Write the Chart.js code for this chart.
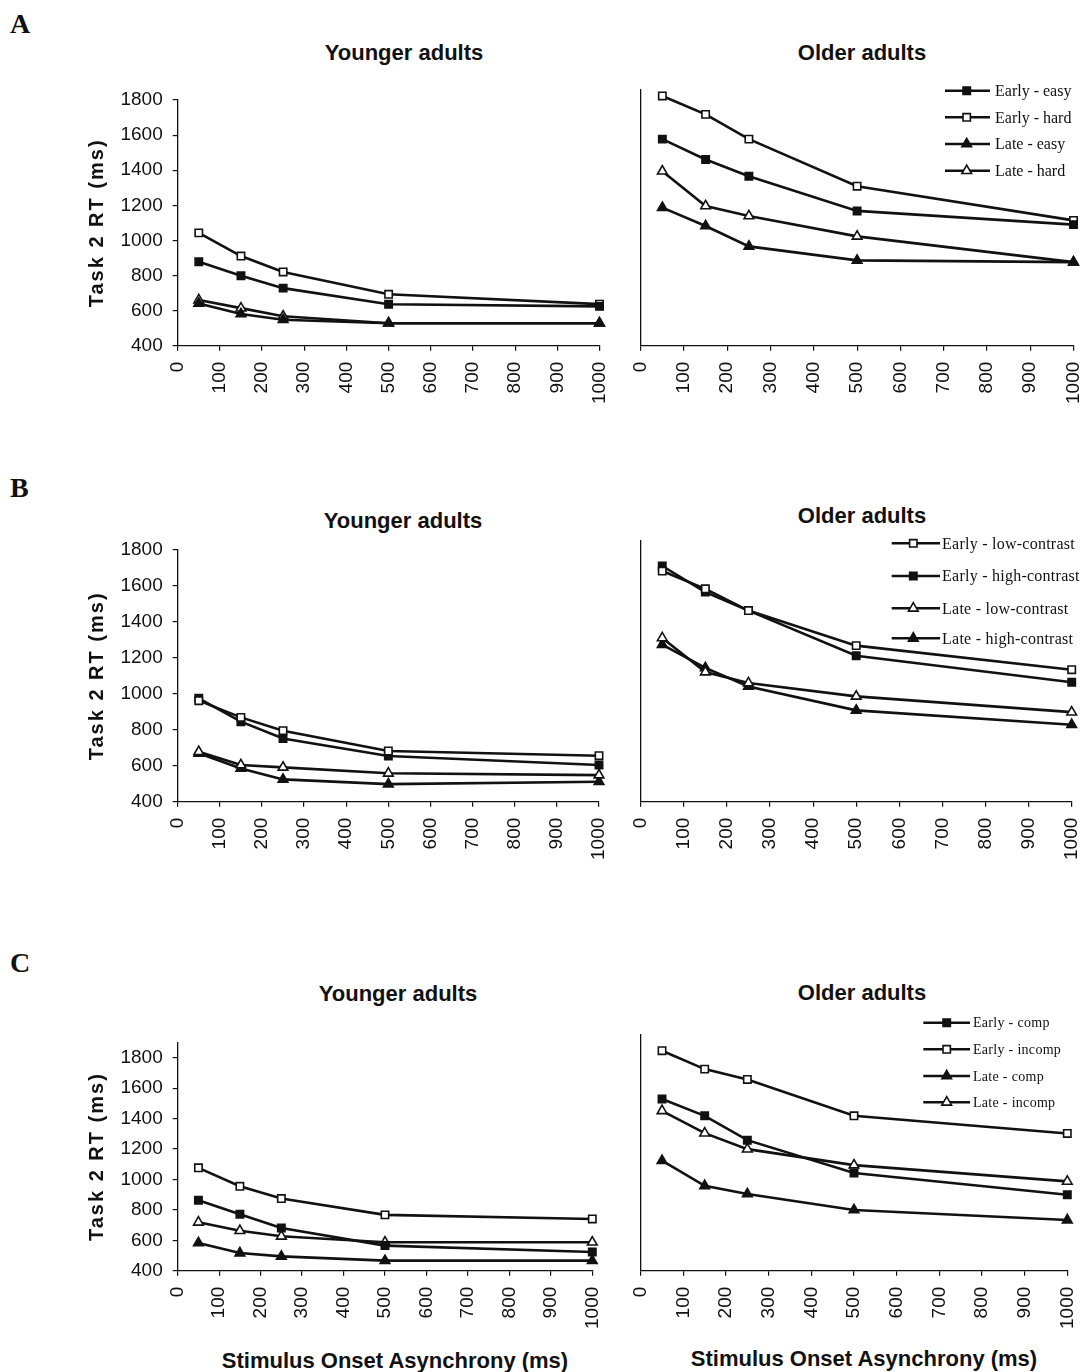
<!DOCTYPE html>
<html>
<head>
<meta charset="utf-8">
<script src="https://cdn.jsdelivr.net/npm/chart.js@4.4.1/dist/chart.umd.min.js"></script>
<style>
html,body{margin:0;padding:0;background:#fff;}
body{width:1086px;height:1372px;position:relative;overflow:hidden;}
.t{position:absolute;white-space:nowrap;color:#111;}
.letter{font-family:'Liberation Serif','Times New Roman',serif;font-weight:bold;font-size:28px;line-height:28px;left:10px;}
.ttl{font-family:'Liberation Sans',Arial,sans-serif;font-weight:bold;font-size:22px;line-height:22px;transform:translateX(-50%);}
.panel{position:absolute;}
</style>
</head>
<body>
<div class="t letter" style="top:10px">A</div>
<div class="t letter" style="top:474px">B</div>
<div class="t letter" style="top:949px">C</div>

<div class="t ttl" style="left:404px;top:42px">Younger adults</div>
<div class="t ttl" style="left:862px;top:42px">Older adults</div>
<div class="t ttl" style="left:403px;top:510px">Younger adults</div>
<div class="t ttl" style="left:862px;top:505px">Older adults</div>
<div class="t ttl" style="left:398px;top:983px">Younger adults</div>
<div class="t ttl" style="left:862px;top:982px">Older adults</div>

<div class="t ttl" style="left:395px;top:1350px">Stimulus Onset Asynchrony (ms)</div>
<div class="t ttl" style="left:864px;top:1348px">Stimulus Onset Asynchrony (ms)</div>

<script>
// ---------------- data ----------------
const SOA = [50, 150, 250, 500, 1000];
const X_TICKS = [0, 100, 200, 300, 400, 500, 600, 700, 800, 900, 1000];
const Y_TICKS = [400, 600, 800, 1000, 1200, 1400, 1600, 1800];
const Y_TITLE = 'Task 2 RT (ms)';

// Panel A
const A_LABELS = ['Early - easy', 'Early - hard', 'Late - easy', 'Late - hard'];
const A_YOUNG_EARLY_EASY = [878, 798, 728, 636, 624];
const A_YOUNG_EARLY_HARD = [1043, 911, 820, 693, 637];
const A_YOUNG_LATE_EASY  = [641, 581, 548, 528, 528];
const A_YOUNG_LATE_HARD  = [660, 614, 568, 528, 528];
const A_OLD_EARLY_EASY = [1577, 1461, 1366, 1168, 1090];
const A_OLD_EARLY_HARD = [1823, 1718, 1577, 1309, 1114];
const A_OLD_LATE_EASY  = [1187, 1082, 966, 886, 876];
const A_OLD_LATE_HARD  = [1394, 1196, 1139, 1023, 876];

// Panel B
const B_LABELS = ['Early - low-contrast', 'Early - high-contrast', 'Late - low-contrast', 'Late - high-contrast'];
const B_YOUNG_EARLY_LOW  = [962, 869, 795, 682, 656];
const B_YOUNG_EARLY_HIGH = [975, 845, 752, 654, 604];
const B_YOUNG_LATE_LOW   = [678, 604, 591, 558, 548];
const B_YOUNG_LATE_HIGH  = [669, 585, 524, 498, 511];
const B_OLD_EARLY_LOW  = [1683, 1584, 1463, 1268, 1134];
const B_OLD_EARLY_HIGH = [1711, 1566, 1463, 1212, 1064];
const B_OLD_LATE_LOW   = [1311, 1121, 1060, 986, 898];
const B_OLD_LATE_HIGH  = [1274, 1144, 1041, 908, 828];

// Panel C
const C_LABELS = ['Early - comp', 'Early - incomp', 'Late - comp', 'Late - incomp'];
const C_YOUNG_EARLY_COMP   = [863, 771, 681, 565, 523];
const C_YOUNG_EARLY_INCOMP = [1076, 955, 874, 767, 740];
const C_YOUNG_LATE_COMP    = [582, 516, 494, 466, 466];
const C_YOUNG_LATE_INCOMP  = [718, 663, 626, 587, 587];
const C_OLD_EARLY_COMP   = [1528, 1418, 1258, 1042, 899];
const C_OLD_EARLY_INCOMP = [1846, 1725, 1657, 1418, 1302];
const C_OLD_LATE_COMP    = [1123, 958, 904, 799, 733];
const C_OLD_LATE_INCOMP  = [1451, 1304, 1199, 1094, 987];

// ---------------- styles ----------------
const INK = '#111';
const FONT_SANS = "'Liberation Sans', Arial, sans-serif";
const FONT_SERIF = "'Liberation Serif', 'Times New Roman', serif";
const FILLED_SQ = {shape: 'rect', filled: true};
const OPEN_SQ = {shape: 'rect', filled: false};
const FILLED_TRI = {shape: 'triangle', filled: true};
const OPEN_TRI = {shape: 'triangle', filled: false};

const insideLegend = {
  id: 'insideLegend',
  afterDatasetsDraw(chart, args, o) {
    if (!o || !o.rows) return;
    const ctx = chart.ctx;
    const r = chart.canvas.getBoundingClientRect();
    ctx.save();
    chart.data.datasets.forEach((ds, i) => {
      const y = o.rows[i] - r.top;
      ctx.lineWidth = 2.4;
      ctx.strokeStyle = INK;
      ctx.beginPath();
      ctx.moveTo(o.lineFrom - r.left, y);
      ctx.lineTo(o.lineTo - r.left, y);
      ctx.stroke();
      ctx.fillStyle = ds.pointBackgroundColor;
      ctx.strokeStyle = INK;
      ctx.lineWidth = ds.pointBorderWidth;
      Chart.helpers.drawPoint(ctx, {pointStyle: ds.pointStyle, radius: ds.pointRadius, borderWidth: ds.pointBorderWidth, rotation: 0}, o.markX - r.left, y);
      ctx.fillStyle = INK;
      ctx.font = o.fontSize + 'px ' + FONT_SERIF;
      ctx.letterSpacing = o.spacing + 'px';
      ctx.textAlign = 'left';
      ctx.textBaseline = 'middle';
      ctx.fillText(ds.label, o.textX - r.left, y + 1);
    });
    ctx.restore();
  }
};

const titleSpacing = {
  id: 'titleSpacing',
  beforeDraw(chart) {
    const s = chart.scales.y;
    if (s && !s.__spaced) {
      const orig = s.drawTitle;
      s.drawTitle = function () {
        const c = this.ctx;
        c.save();
        c.letterSpacing = '2px';
        orig.apply(this, arguments);
        c.restore();
      };
      s.__spaced = true;
    }
  }
};
Chart.register(insideLegend, titleSpacing);

function makePanel(p) {
  const [bx, by, bw, bh] = p.box;
  const div = document.createElement('div');
  div.className = 'panel';
  div.style.left = bx + 'px';
  div.style.top = by + 'px';
  div.style.width = bw + 'px';
  div.style.height = bh + 'px';
  const cv = document.createElement('canvas');
  div.appendChild(cv);
  document.body.appendChild(div);

  const yMin = Y_TICKS[0];
  const pxPerUnit = (p.row.y400 - p.row.y1800) / (Y_TICKS[Y_TICKS.length - 1] - yMin);
  const areaTop = p.row.y400 - (p.yMax - yMin) * pxPerUnit;

  const datasets = p.series.map((vals, i) => ({
    label: p.labels[i],
    data: SOA.map((x, j) => ({x: x, y: vals[j]})),
    borderColor: INK,
    borderWidth: 2.6,
    tension: 0,
    fill: false,
    clip: false,
    pointStyle: p.styles[i].shape,
    pointRadius: p.styles[i].shape === 'triangle' ? 5.6 : 5.2,
    pointBackgroundColor: p.styles[i].filled ? INK : '#fff',
    pointBorderColor: INK,
    pointBorderWidth: 1.6
  }));

  const yScale = p.left ? {
    type: 'linear', min: yMin, max: p.yMax,
    afterBuildTicks: s => { s.ticks = Y_TICKS.map(v => ({value: v})); },
    afterFit: s => { s.width = p.areaLeft - bx; s.paddingTop = 0; s.paddingBottom = 0; },
    ticks: {padding: 10, color: INK, font: {family: FONT_SANS, size: 19}, callback: v => String(v)},
    grid: {drawOnChartArea: false, tickLength: 5, color: INK, lineWidth: 1.2},
    border: {display: true, color: INK, width: 1.3},
    title: {display: true, text: Y_TITLE, color: INK, font: {family: FONT_SANS, size: 20, weight: 'bold'}, padding: {top: 5, bottom: 0}}
  } : {
    type: 'linear', min: yMin, max: p.yMax,
    afterBuildTicks: s => { s.ticks = Y_TICKS.map(v => ({value: v})); },
    afterFit: s => { s.width = p.areaLeft - bx; s.paddingTop = 0; s.paddingBottom = 0; },
    ticks: {display: false},
    grid: {display: false},
    border: {display: true, color: INK, width: 1.3}
  };

  new Chart(cv, {
    type: 'line',
    data: {datasets: datasets},
    options: {
      responsive: true,
      maintainAspectRatio: false,
      animation: false,
      devicePixelRatio: 1,
      layout: {autoPadding: false, padding: {top: areaTop - by, right: bx + bw - p.areaRight, bottom: 0, left: 0}},
      plugins: {
        legend: {display: false},
        tooltip: {enabled: false},
        insideLegend: p.legend || false
      },
      scales: {
        x: {
          type: 'linear', min: 0, max: 1000,
          afterBuildTicks: s => { s.ticks = X_TICKS.map(v => ({value: v})); },
          afterFit: s => { s.height = by + bh - p.row.y400; s.paddingLeft = 0; s.paddingRight = 0; },
          ticks: {autoSkip: false, minRotation: 90, maxRotation: 90, padding: 11, color: INK, font: {family: FONT_SANS, size: 19}, callback: v => String(v)},
          grid: {drawOnChartArea: false, drawTicks: true, tickLength: 5, color: INK, lineWidth: 1.2},
          border: {display: true, color: INK, width: 1.3}
        },
        y: yScale
      }
    }
  });
}

const ROW_A = {y1800: 100, y400: 345.7};
const ROW_B = {y1800: 550, y400: 801.7};
const ROW_C = {y1800: 1057.7, y400: 1270.7};

makePanel({box: [80, 70, 540, 350], row: ROW_A, left: true, areaLeft: 177.7, areaRight: 599.5, yMax: 1800,
  labels: A_LABELS, styles: [FILLED_SQ, OPEN_SQ, FILLED_TRI, OPEN_TRI],
  series: [A_YOUNG_EARLY_EASY, A_YOUNG_EARLY_HARD, A_YOUNG_LATE_EASY, A_YOUNG_LATE_HARD]});
makePanel({box: [612, 70, 474, 350], row: ROW_A, left: false, areaLeft: 640.7, areaRight: 1073.5, yMax: 1860,
  labels: A_LABELS, styles: [FILLED_SQ, OPEN_SQ, FILLED_TRI, OPEN_TRI],
  series: [A_OLD_EARLY_EASY, A_OLD_EARLY_HARD, A_OLD_LATE_EASY, A_OLD_LATE_HARD],
  legend: {rows: [90.7, 117.3, 144, 170.7], lineFrom: 945, lineTo: 990, markX: 966.7, textX: 995, fontSize: 16, spacing: 0}});

makePanel({box: [80, 520, 540, 350], row: ROW_B, left: true, areaLeft: 177.7, areaRight: 599, yMax: 1800,
  labels: B_LABELS, styles: [OPEN_SQ, FILLED_SQ, OPEN_TRI, FILLED_TRI],
  series: [B_YOUNG_EARLY_LOW, B_YOUNG_EARLY_HIGH, B_YOUNG_LATE_LOW, B_YOUNG_LATE_HIGH]});
makePanel({box: [612, 520, 474, 350], row: ROW_B, left: false, areaLeft: 640.7, areaRight: 1071.7, yMax: 1850,
  labels: B_LABELS, styles: [OPEN_SQ, FILLED_SQ, OPEN_TRI, FILLED_TRI],
  series: [B_OLD_EARLY_LOW, B_OLD_EARLY_HIGH, B_OLD_LATE_LOW, B_OLD_LATE_HIGH],
  legend: {rows: [543.3, 576, 608.3, 638.3], lineFrom: 891.7, lineTo: 940, markX: 913.3, textX: 942, fontSize: 16, spacing: 0.25}});

makePanel({box: [80, 1000, 540, 350], row: ROW_C, left: true, areaLeft: 177.7, areaRight: 592.3, yMax: 1900,
  labels: C_LABELS, styles: [FILLED_SQ, OPEN_SQ, FILLED_TRI, OPEN_TRI],
  series: [C_YOUNG_EARLY_COMP, C_YOUNG_EARLY_INCOMP, C_YOUNG_LATE_COMP, C_YOUNG_LATE_INCOMP]});
makePanel({box: [612, 1000, 474, 350], row: ROW_C, left: false, areaLeft: 640.7, areaRight: 1067.3, yMax: 1950,
  labels: C_LABELS, styles: [FILLED_SQ, OPEN_SQ, FILLED_TRI, OPEN_TRI],
  series: [C_OLD_EARLY_COMP, C_OLD_EARLY_INCOMP, C_OLD_LATE_COMP, C_OLD_LATE_INCOMP],
  legend: {rows: [1022.7, 1049.3, 1076, 1102.3], lineFrom: 923.3, lineTo: 970, markX: 946.7, textX: 973, fontSize: 14, spacing: 0.3}});
</script>
</body>
</html>
